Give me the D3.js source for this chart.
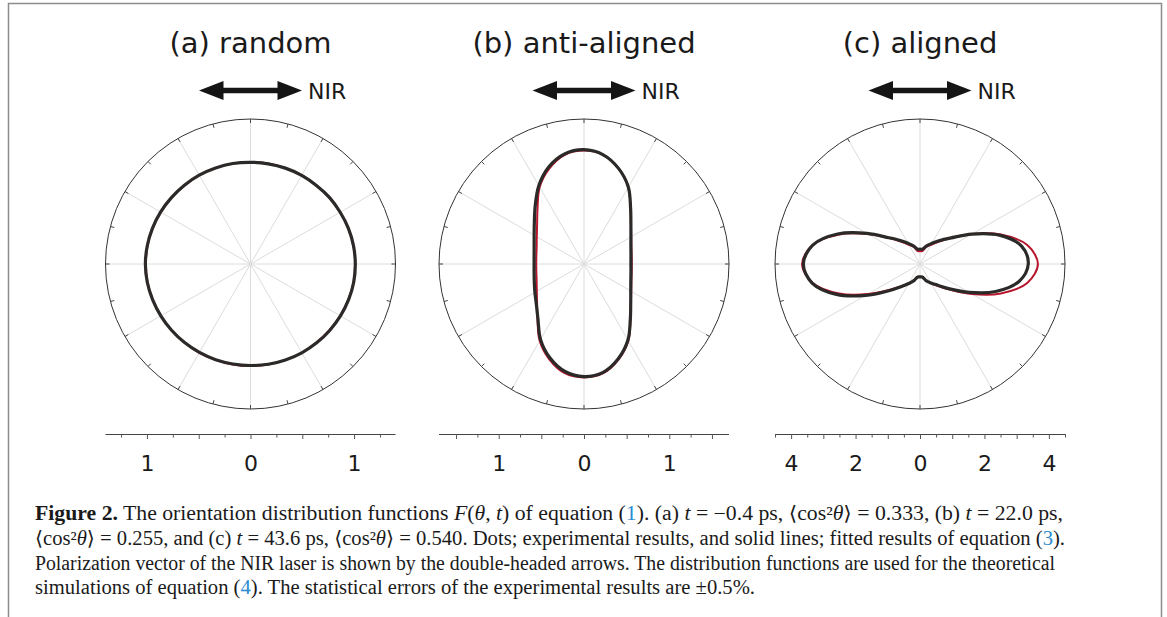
<!DOCTYPE html>
<html lang="en">
<head>
  <meta charset="UTF-8">
  <title>Orientation distribution functions</title>
  <script src="https://cdn.jsdelivr.net/npm/d3@7"></script>
  <style>
    body { margin: 0; background: #fff; }
    svg text { font-family: "DejaVu Sans", sans-serif; }
  </style>
</head>
<body>
  <div id="chart"></div>

  <script>
    // angle (deg, counter-clockwise from the NIR axis) for every sample
    const angles = [0, 10, 20, 30, 40, 50, 60, 70, 80, 90, 100, 110, 120, 130, 140, 150, 160, 170,
                    180, 190, 200, 210, 220, 230, 240, 250, 260, 270, 280, 290, 300, 310, 320, 330, 340, 350];

    // (a) random
    const fitA  = [1.01, 1.01, 1.005, 1.0, 0.995, 0.99, 0.99, 0.985, 0.985, 0.985, 0.985, 0.985, 0.99, 0.99, 0.995, 1.0, 1.005, 1.01,
                   1.01, 1.01, 1.005, 1.0, 0.995, 0.99, 0.99, 0.985, 0.985, 0.985, 0.985, 0.985, 0.99, 0.99, 0.995, 1.0, 1.005, 1.01];
    const dotsA = [1.012, 1.01, 1.006, 1.0, 0.997, 0.99, 0.988, 0.985, 0.982, 0.982, 0.985, 0.986, 0.99, 0.993, 0.997, 1.003, 1.008, 1.012,
                   1.015, 1.012, 1.006, 1.0, 0.995, 0.99, 0.986, 0.983, 0.98, 0.98, 0.983, 0.986, 0.99, 0.994, 0.998, 1.003, 1.008, 1.012];

    // (b) anti-aligned
    const fitB  = [0.56, 0.567, 0.591, 0.639, 0.718, 0.848, 1.04, 1.19, 1.3, 1.33, 1.3, 1.19, 1.04, 0.848, 0.718, 0.639, 0.591, 0.567,
                   0.56, 0.567, 0.591, 0.639, 0.718, 0.848, 1.04, 1.19, 1.3, 1.33, 1.3, 1.19, 1.04, 0.848, 0.718, 0.639, 0.591, 0.567];
    const dotsB = [0.55, 0.559, 0.585, 0.635, 0.718, 0.85, 1.04, 1.19, 1.3, 1.34, 1.31, 1.21, 1.06, 0.89, 0.76, 0.675, 0.622, 0.594,
                   0.585, 0.594, 0.62, 0.665, 0.73, 0.84, 1.02, 1.17, 1.28, 1.32, 1.29, 1.18, 1.03, 0.845, 0.715, 0.633, 0.584, 0.559];

    // (c) aligned
    const fitC  = [3.66, 3.38, 2.67, 1.86, 1.25, 0.9, 0.69, 0.56, 0.41, 0.4, 0.41, 0.56, 0.69, 0.9, 1.25, 1.86, 2.67, 3.38,
                   3.66, 3.38, 2.67, 1.86, 1.25, 0.9, 0.69, 0.56, 0.41, 0.4, 0.41, 0.56, 0.69, 0.9, 1.25, 1.86, 2.67, 3.38];
    const dotsC = [3.36, 3.2, 2.62, 1.86, 1.26, 0.95, 0.74, 0.6, 0.47, 0.46, 0.47, 0.6, 0.74, 0.95, 1.27, 1.9, 2.72, 3.38,
                   3.62, 3.4, 2.76, 1.95, 1.3, 0.92, 0.7, 0.55, 0.41, 0.4, 0.41, 0.55, 0.68, 0.86, 1.2, 1.76, 2.5, 3.12];

    const titles = ["(a) random", "(b) anti-aligned", "(c) aligned"];
    const fits = [fitA, fitB, fitC];
    const dots = [dotsA, dotsB, dotsC];
    const axisMax = [1.4, 1.7, 4.5];
    const labelTicks = [[-1, 0, 1], [-1, 0, 1], [-4, -2, 0, 2, 4]];
    const minorStep = [0.25, 0.25, 0.5];
    const majorStep = [0.5, 0.5, 1];

    const width = 1167, height = 617;
    const centers = [250.5, 584, 920];
    const cy = 264, R = 145, axisY = 434;

    const svg = d3.select("#chart").append("svg")
      .attr("width", width)
      .attr("height", height);

    // page frame
    svg.append("path")
      .attr("d", `M8.5,${height} V3.5 H1161.5 V${height}`)
      .attr("fill", "none")
      .attr("stroke", "#8c8c8c")
      .attr("stroke-width", 1.5);

    const red = "#b8162c", dark = "#2c2a28";

    titles.forEach((title, k) => {
      const cx = centers[k];
      const g = svg.append("g");
      const rScale = d3.scaleLinear().domain([0, axisMax[k]]).range([0, R]);

      g.append("text")
        .attr("x", cx).attr("y", 53.3)
        .attr("text-anchor", "middle")
        .style("font-size", "29px")
        .attr("fill", "#1a1a1a")
        .text(title);

      // NIR double arrow
      const ar = g.append("g").attr("transform", `translate(${cx},90.5)`);
      ar.append("line").attr("x1", -30).attr("x2", 30)
        .attr("stroke", "#151515").attr("stroke-width", 5.5);
      ar.append("path").attr("d", "M-51.5,0 L-27,-9.5 L-27,9.5Z").attr("fill", "#151515");
      ar.append("path").attr("d", "M51.5,0 L27,-9.5 L27,9.5Z").attr("fill", "#151515");
      g.append("text")
        .attr("x", cx + 57.5).attr("y", 98.5)
        .style("font-size", "22px")
        .attr("fill", "#1a1a1a")
        .text("NIR");

      const p = g.append("g").attr("transform", `translate(${cx},${cy})`);

      // spokes every 30 deg
      p.selectAll(".spoke")
        .data(d3.range(0, 360, 30))
        .join("line")
        .attr("x1", 0).attr("y1", 0)
        .attr("x2", d => R * Math.cos(d * Math.PI / 180))
        .attr("y2", d => -R * Math.sin(d * Math.PI / 180))
        .attr("stroke", "#dcdcdc")
        .attr("stroke-width", 1);

      p.append("circle")
        .attr("r", R)
        .attr("fill", "none")
        .attr("stroke", "#333")
        .attr("stroke-width", 1);

      p.selectAll(".aTick")
        .data(d3.range(0, 360, 15))
        .join("line")
        .attr("x1", d => (R - 4) * Math.cos(d * Math.PI / 180))
        .attr("y1", d => -(R - 4) * Math.sin(d * Math.PI / 180))
        .attr("x2", d => R * Math.cos(d * Math.PI / 180))
        .attr("y2", d => -R * Math.sin(d * Math.PI / 180))
        .attr("stroke", "#444")
        .attr("stroke-width", 1);

      const radial = d3.lineRadial()
        .angle(i => Math.PI / 2 - angles[i] * Math.PI / 180)
        .curve(d3.curveCatmullRomClosed.alpha(0.5));

      p.append("path")
        .attr("d", radial.radius(i => rScale(fits[k][i]))(d3.range(angles.length)))
        .attr("fill", "none")
        .attr("stroke", red)
        .attr("stroke-width", 2);

      p.append("path")
        .attr("d", radial.radius(i => rScale(dots[k][i]))(d3.range(angles.length)))
        .attr("fill", "none")
        .attr("stroke", dark)
        .attr("stroke-width", 3.2)
        .attr("stroke-linejoin", "round");

      // bottom axis
      const x = d3.scaleLinear().domain([-axisMax[k], axisMax[k]]).range([cx - R, cx + R]);
      const tickVals = d3.range(-Math.floor(axisMax[k] / minorStep[k]), Math.floor(axisMax[k] / minorStep[k]) + 1)
        .map(i => i * minorStep[k]);
      const ax = g.append("g")
        .attr("transform", `translate(0,${axisY})`)
        .call(d3.axisBottom(x)
          .tickValues(tickVals)
          .tickSize(5)
          .tickPadding(16)
          .tickFormat(d => labelTicks[k].includes(d) ? Math.abs(d) : ""));
      ax.select(".domain").attr("stroke", "#444").attr("d", `M${cx - R},0.5H${cx + R}`);
      ax.selectAll(".tick line")
        .attr("stroke", "#555")
        .attr("y2", d => Math.abs(d / majorStep[k] - Math.round(d / majorStep[k])) < 1e-6 ? 5 : 3.5);
      ax.selectAll(".tick text")
        .style("font-size", "22px")
        .style("font-family", "DejaVu Sans")
        .attr("fill", "#1a1a1a");
    });

    // caption
    const captionLines = [
      [["Figure 2.", "b"], [" The orientation distribution functions "], ["F", "i"], ["("], ["θ", "i"], [", "], ["t", "i"],
       [") of equation ("], ["1", "c"], ["). (a) "], ["t", "i"], [" = −0.4 ps, ⟨cos²"], ["θ", "i"], ["⟩ = 0.333, (b) "],
       ["t", "i"], [" = 22.0 ps,"]],
      [["⟨cos²"], ["θ", "i"], ["⟩ = 0.255, and (c) "], ["t", "i"], [" = 43.6 ps, ⟨cos²"], ["θ", "i"],
       ["⟩ = 0.540. Dots; experimental results, and solid lines; fitted results of equation ("], ["3", "c"], [")."]],
      [["Polarization vector of the NIR laser is shown by the double-headed arrows. The distribution functions are used for the theoretical"]],
      [["simulations of equation ("], ["4", "c"], ["). The statistical errors of the experimental results are ±0.5%."]]
    ];
    const captionY = [520, 545, 570, 594];
    const captionW = [1028, 1030, 1020, 720];

    captionLines.forEach((segs, j) => {
      const t = svg.append("text")
        .attr("x", 35).attr("y", captionY[j])
        .attr("textLength", captionW[j])
        .attr("lengthAdjust", "spacingAndGlyphs")
        .style("font-family", "'Liberation Serif', 'DejaVu Serif', serif")
        .style("font-size", "20px")
        .attr("fill", "#1a1a1a");
      segs.forEach(s => {
        t.append("tspan")
          .text(s[0])
          .style("font-weight", s[1] === "b" ? "bold" : null)
          .style("font-style", s[1] === "i" ? "italic" : null)
          .attr("fill", s[1] === "c" ? "#2a8bd0" : null);
      });
    });
  </script>
</body>
</html>
